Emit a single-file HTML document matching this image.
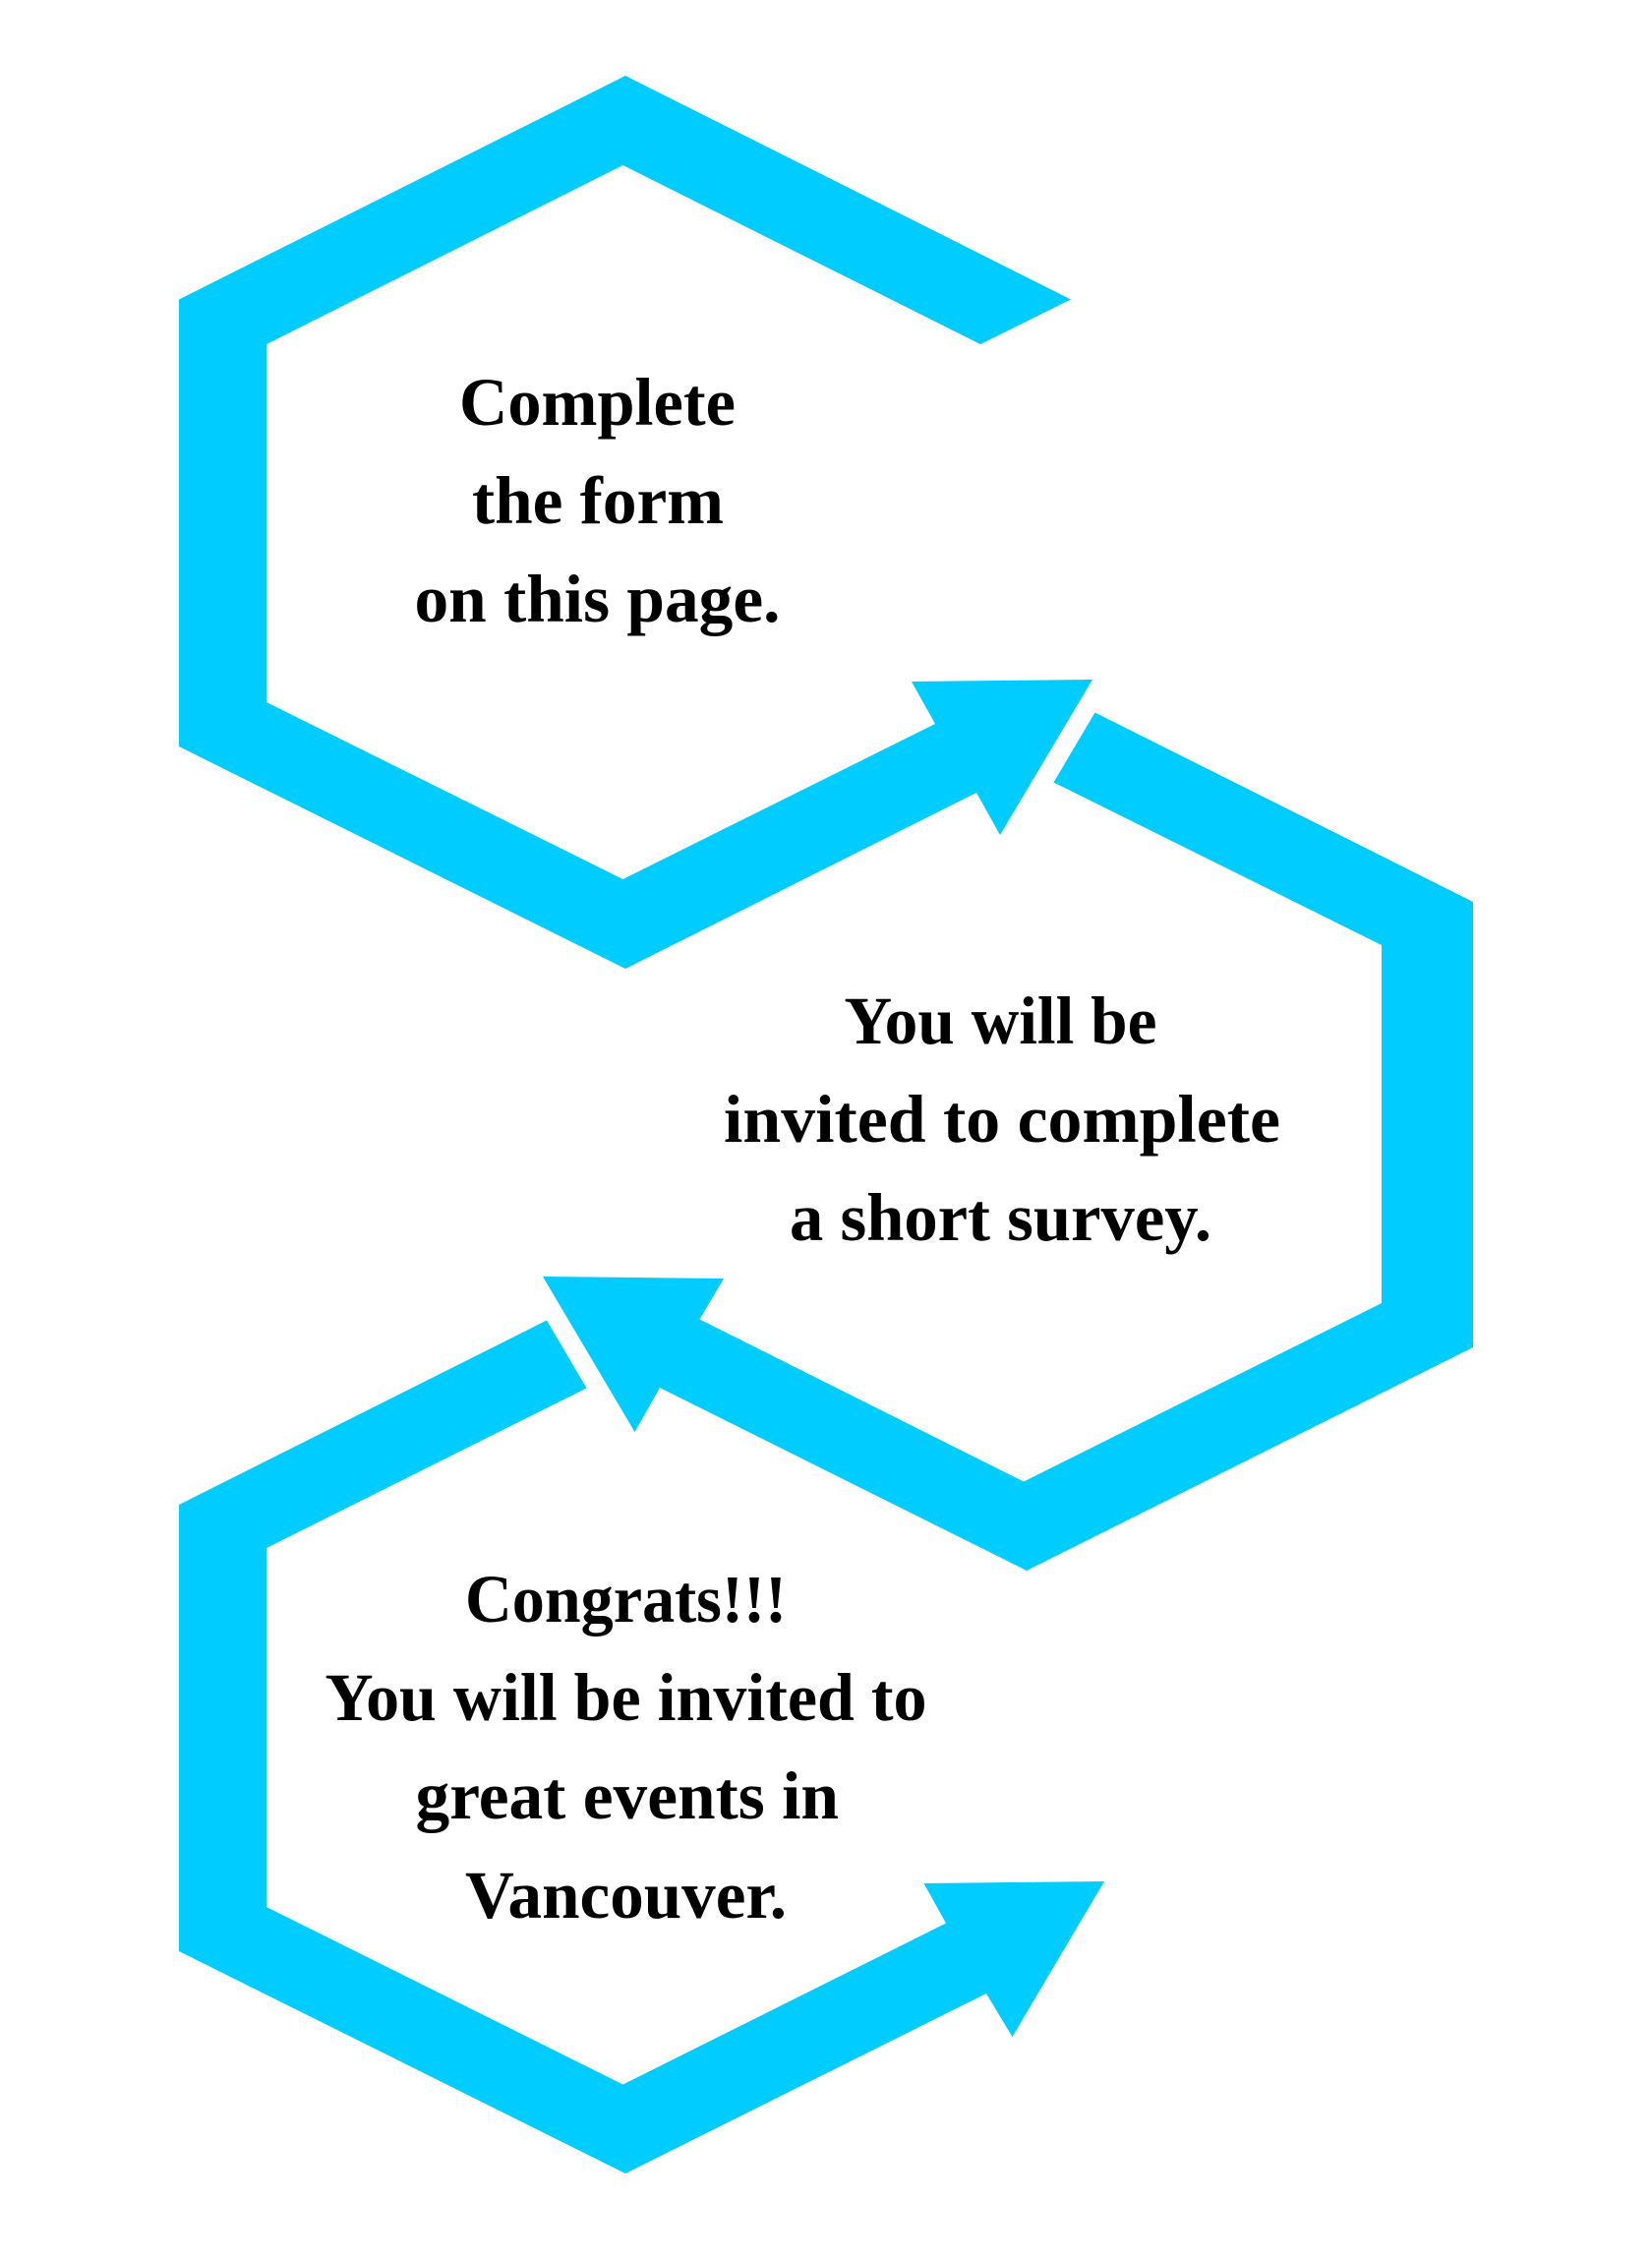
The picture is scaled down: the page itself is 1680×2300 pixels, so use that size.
<!DOCTYPE html>
<html lang="en">
<head>
<meta charset="utf-8">
<title>Steps</title>
<style>
html,body{margin:0;padding:0;background:#fff;width:1680px;height:2300px;overflow:hidden}
svg{display:block}
text{font-family:"Liberation Serif",serif;font-weight:700;font-size:69px;fill:#000}
</style>
</head>
<body>
<svg width="1680" height="2300" viewBox="0 0 1680 2300" xmlns="http://www.w3.org/2000/svg">
<rect width="1680" height="2300" fill="#fff"/>
<g fill="#00ccff">
<polygon points="636,77 1089,304.5 997,350 633.5,168 271,350 271,714 633.5,894 951,736 927,693 1111,691 1017,849 993,806 636,985 182,759 182,304.5"/>
<polygon points="1113.5,724.5 1498,917 1498,1370 1044,1597 671,1411 645.5,1456 552,1298 736,1300 711.5,1341.5 1041,1506.5 1405,1325 1405,961 1071.5,795.5"/>
<polygon points="556,1342.5 596.5,1411.5 271,1574 271,1939 633.5,2119.5 962,1955.5 939.5,1915 1123,1913 1029.5,2071 1003,2027 636,2210 182,1984 182,1530"/>
</g>
<g>
<text x="467" y="432" textLength="281" lengthAdjust="spacingAndGlyphs">Complete</text>
<text x="480" y="532" textLength="256" lengthAdjust="spacingAndGlyphs">the form</text>
<text x="421.5" y="632" textLength="372" lengthAdjust="spacingAndGlyphs">on this page.</text>
<text x="858.5" y="1061" textLength="318" lengthAdjust="spacingAndGlyphs">You will be</text>
<text x="736" y="1161" textLength="566" lengthAdjust="spacingAndGlyphs">invited to complete</text>
<text x="803" y="1261" textLength="429" lengthAdjust="spacingAndGlyphs">a short survey.</text>
<text x="473" y="1649" textLength="327" lengthAdjust="spacingAndGlyphs">Congrats!!!</text>
<text x="330.5" y="1749" textLength="612" lengthAdjust="spacingAndGlyphs">You will be invited to</text>
<text x="422.5" y="1849" textLength="430.5" lengthAdjust="spacingAndGlyphs">great events in</text>
<text x="473" y="1950" textLength="327" lengthAdjust="spacingAndGlyphs">Vancouver.</text>
</g>
</svg>
</body>
</html>
